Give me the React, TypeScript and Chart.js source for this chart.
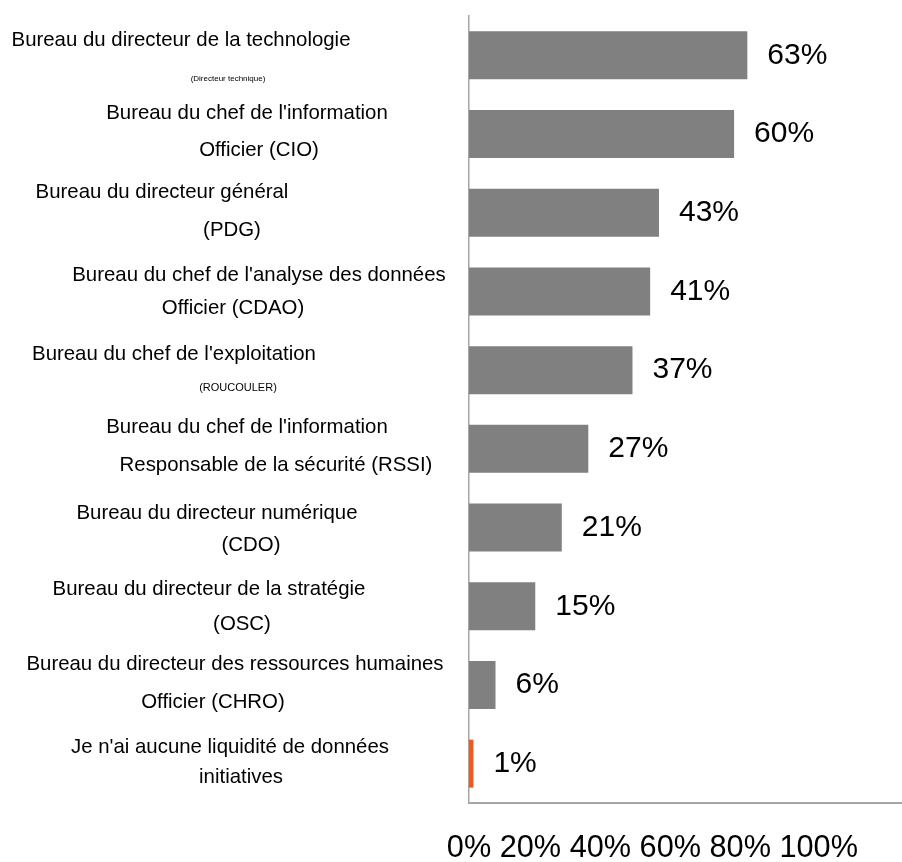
import React, { useEffect, useRef } from "react";
import { Chart, registerables } from "chart.js";

Chart.register(...registerables);

const FONT = "'Liberation Sans', Arial, Helvetica, sans-serif";

// ---- data ----
const categories: string[][] = [
  ["Bureau du directeur de la technologie", "(Directeur technique)"],
  ["Bureau du chef de l'information", "Officier (CIO)"],
  ["Bureau du directeur général", "(PDG)"],
  ["Bureau du chef de l'analyse des données", "Officier (CDAO)"],
  ["Bureau du chef de l'exploitation", "(ROUCOULER)"],
  ["Bureau du chef de l'information", "Responsable de la sécurité (RSSI)"],
  ["Bureau du directeur numérique", "(CDO)"],
  ["Bureau du directeur de la stratégie", "(OSC)"],
  ["Bureau du directeur des ressources humaines", "Officier (CHRO)"],
  ["Je n'ai aucune liquidité de données", "initiatives"],
];
const values: number[] = [63, 60, 43, 41, 37, 27, 21, 15, 6, 1];
const highlightIndex = 9;
const xTickLabels: string[] = ["0%", "20%", "40%", "60%", "80%", "100%"];

// ---- layout / style tables for the category label text ----
const LABEL_LINE_CENTERS: number[][] = [
  [181, 228], [247, 259], [162, 232], [259, 233], [174, 238],
  [247, 276], [217, 251], [209, 242], [235, 213], [230, 241],
];
const LABEL_LINE_SIZES: number[][] = [
  [20.4, 8], [20.4, 20.4], [20.4, 20.4], [20.4, 20.4], [20.4, 11],
  [20.4, 20.4], [20.4, 20.4], [20.4, 20.4], [20.4, 20.4], [20.4, 20.4],
];
const LABEL_LINE_OFFSETS: number[][] = [
  [-15, 23], [-21, 16], [-20, 18], [-16, 17], [-16, 18],
  [-21, 17], [-14, 18], [-17, 18], [-21, 17], [-16, 14],
];

const GRAY = "#808080";
const ORANGE = "#FA5716";
const AXIS = "#a6a6a6";

const yLabelPlugin = {
  id: "yLabelText",
  afterDraw(chart: any, _args: any, opts: any) {
    const ctx = chart.ctx;
    const y = chart.scales.y;
    ctx.save();
    ctx.fillStyle = "#000";
    ctx.textAlign = "center";
    ctx.textBaseline = "middle";
    (chart.data.labels as string[][]).forEach((lines, i) => {
      const cy = y.getPixelForValue(i);
      lines.forEach((t, j) => {
        ctx.font = `${opts.sizes[i][j]}px ${FONT}`;
        ctx.fillText(t, opts.centers[i][j], cy + opts.offsets[i][j]);
      });
    });
    ctx.restore();
  },
};

const xTickTextPlugin = {
  id: "xTickText",
  afterDraw(chart: any, _args: any, opts: any) {
    const ctx = chart.ctx;
    const x = chart.scales.x;
    ctx.save();
    ctx.fillStyle = "#000";
    ctx.font = `30.7px ${FONT}`;
    ctx.textAlign = "left";
    ctx.textBaseline = "middle";
    const labels: string[] = opts.labels;
    const first = ctx.measureText(labels[0]).width;
    const left = x.getPixelForValue(0) - first / 2;
    ctx.fillText(labels.join(" "), left, chart.chartArea.bottom + opts.gap);
    ctx.restore();
  },
};

const valueLabelPlugin = {
  id: "valueLabels",
  afterDatasetsDraw(chart: any) {
    const ctx = chart.ctx;
    const meta = chart.getDatasetMeta(0);
    const data = chart.data.datasets[0].data as number[];
    ctx.save();
    ctx.fillStyle = "#000";
    ctx.font = `30px ${FONT}`;
    ctx.textAlign = "left";
    ctx.textBaseline = "middle";
    meta.data.forEach((bar: any, i: number) => {
      ctx.fillText(`${data[i]}%`, bar.x + 20, bar.y);
    });
    ctx.restore();
  },
};

export default function App() {
  const ref = useRef<HTMLCanvasElement | null>(null);

  useEffect(() => {
    document.body.style.margin = "0";
    if (!ref.current) return;
    const chart = new Chart(ref.current, {
      type: "bar",
      data: {
        labels: categories as any,
        datasets: [
          {
            data: values,
            backgroundColor: values.map((_, i) => (i === highlightIndex ? ORANGE : GRAY)),
            borderWidth: 0,
            barPercentage: 0.61,
            categoryPercentage: 1,
          },
        ],
      },
      options: {
        indexAxis: "y",
        responsive: false,
        animation: false,
        layout: { padding: { top: 16, right: 0, bottom: 59, left: 0 } },
        plugins: {
          legend: { display: false },
          tooltip: { enabled: false },
          yLabelText: {
            centers: LABEL_LINE_CENTERS,
            sizes: LABEL_LINE_SIZES,
            offsets: LABEL_LINE_OFFSETS,
          },
          xTickText: { labels: xTickLabels, gap: 46 },
        } as any,
        scales: {
          y: {
            type: "category",
            position: "left",
            grid: { display: false, drawTicks: false },
            border: { display: true, color: AXIS, width: 1.5 },
            ticks: { display: false },
            afterFit: (s: any) => {
              s.width = 469;
            },
          },
          x: {
            type: "linear",
            position: "bottom",
            min: 0,
            max: 98,
            grid: { display: false, drawTicks: false },
            border: { display: true, color: AXIS, width: 2 },
            ticks: { display: false },
          },
        } as any,
      },
      plugins: [yLabelPlugin, valueLabelPlugin, xTickTextPlugin],
    });
    return () => chart.destroy();
  }, []);

  return (
    <div style={{ width: 902, height: 862, background: "#fff" }}>
      <canvas ref={ref} width={902} height={862} style={{ display: "block" }} />
    </div>
  );
}
